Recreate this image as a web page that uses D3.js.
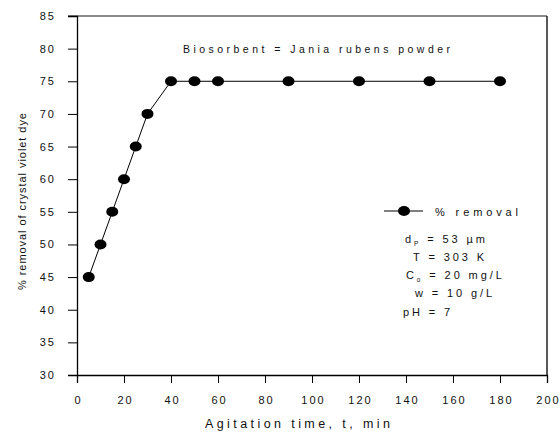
<!DOCTYPE html>
<html><head><meta charset="utf-8">
<script src="https://cdn.jsdelivr.net/npm/d3@7"></script>
<style>body{margin:0;background:#fff}text{font-family:"Liberation Sans",Arial,sans-serif;fill:#111}</style>
</head><body><svg id="c" width="560" height="434"></svg>
<script>
const times = [5,10,15,20,25,30,40,50,60,90,120,150,180];
const removal = [45,50,55,60,65,70,75,75,75,75,75,75,75];
const xTicks = [0,20,40,60,80,100,120,140,160,180,200];
const yTicks = [30,35,40,45,50,55,60,65,70,75,80,85];
const seriesName = "% removal";

const svg = d3.select("#c");
const x = d3.scaleLinear().domain([0,200]).range([77,547]);
const y = d3.scaleLinear().domain([30,85]).range([375,16]);

// frame top and right
svg.append("line").attr("x1",68).attr("x2",547).attr("y1",y(85)).attr("y2",y(85)).attr("stroke","#8a8a8a").attr("stroke-width",2);
svg.append("line").attr("x1",547).attr("x2",547).attr("y1",y(85)).attr("y2",y(30)).attr("stroke","#222").attr("stroke-width",1.5);

const ya = svg.append("g").attr("transform","translate(77,0)")
  .call(d3.axisLeft(y).tickValues(yTicks).tickSize(9).tickPadding(12).tickFormat(d3.format("d")));
const xa = svg.append("g").attr("transform","translate(0,375)")
  .call(d3.axisBottom(x).tickValues(xTicks).tickSize(8).tickPadding(13).tickFormat(d3.format("d")));
[ya,xa].forEach(a=>{
  a.select(".domain").attr("stroke","#000").attr("stroke-width",1.3);
  a.selectAll(".tick line").attr("stroke","#000").attr("stroke-width",1);
  a.selectAll("text").attr("font-size",11).attr("letter-spacing","2px").attr("font-family","Liberation Sans, Arial, sans-serif").attr("fill","#111");
});
xa.selectAll("text").attr("dx","1px");

const line = d3.line().x((d,i)=>x(times[i])).y(d=>y(d));
svg.append("path").datum(removal).attr("d",line).attr("fill","none").attr("stroke","#000").attr("stroke-width",1);
svg.selectAll("ellipse.pt").data(removal).enter().append("ellipse").attr("class","pt")
  .attr("cx",(d,i)=>x(times[i])).attr("cy",d=>y(d)).attr("rx",6).attr("ry",5).attr("fill","#000");

// title annotation
svg.append("text").attr("x",183).attr("y",53).attr("font-size",10.5)
  .attr("textLength",267).attr("lengthAdjust","spacing").text("Biosorbent = Jania rubens powder");

// legend
svg.append("line").attr("x1",384).attr("x2",423).attr("y1",211).attr("y2",211).attr("stroke","#000").attr("stroke-width",1);
svg.append("ellipse").attr("cx",404).attr("cy",211).attr("rx",6).attr("ry",5).attr("fill","#000");
svg.append("text").attr("x",435).attr("y",216).attr("font-size",11).attr("textLength",83).attr("lengthAdjust","spacing").text(seriesName);

// conditions
const fs = 11, ls = "2.9px";
function cond(xp, yp, parts){
  const t = svg.append("text").attr("x",xp).attr("y",yp).attr("font-size",fs).attr("letter-spacing",ls);
  parts.forEach(p=>{
    const s = t.append("tspan").text(p[0]);
    if(p[1]==="sub") s.attr("font-size",6.5).attr("dy",3);
    if(p[1]==="base") s.attr("dy",-3);
  });
}
cond(405,243,[["d"],["P","sub"],[" = 53 µm","base"]]);
cond(413,261,[["T = 303 K"]]);
cond(406,279,[["C"],["o","sub"],[" = 20 mg/L","base"]]);
cond(415,297,[["w = 10 g/L"]]);
cond(403,316,[["pH = 7"]]);

// axis labels
svg.append("text").attr("x",205).attr("y",428).attr("font-size",12.5).attr("textLength",185).attr("lengthAdjust","spacing").text("Agitation time, t, min");
svg.append("text").attr("transform","translate(26,290) rotate(-90)").attr("font-size",11).attr("textLength",177).attr("lengthAdjust","spacing").text("% removal of crystal violet dye");
</script></body></html>
